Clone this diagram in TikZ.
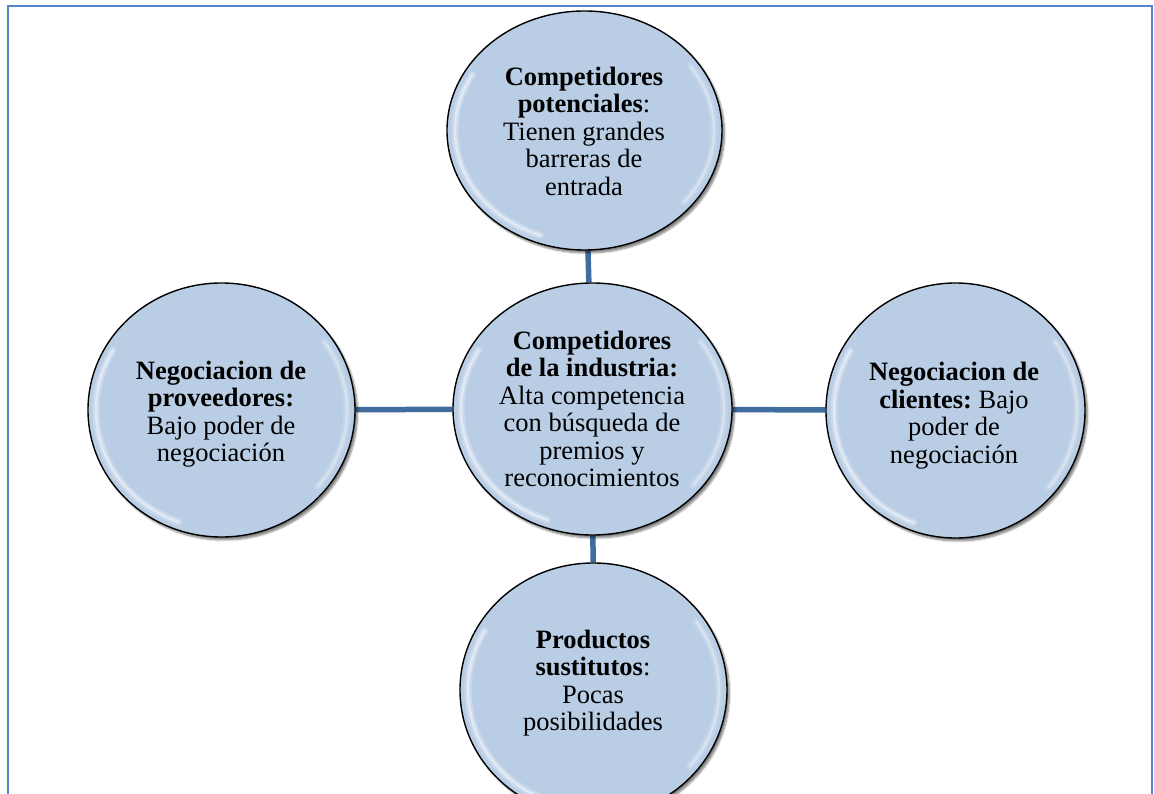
\documentclass[tikz,border=0pt]{standalone}
\usepackage{fontspec}
\setmainfont{Liberation Serif}
\usetikzlibrary{shapes.geometric,shadows.blur}
\pgfdeclarelayer{background}
\pgfsetlayers{background,main}

\definecolor{frameblue}{RGB}{84,134,206}
\definecolor{linkblue}{RGB}{64,108,158}
\definecolor{bubblefill}{RGB}{185,205,229}

\tikzset{
  bubble/.style={ellipse, draw=black, line width=1.4pt, fill=bubblefill,
    inner sep=0pt,
    blur shadow={shadow xshift=2.5pt, shadow yshift=-3pt,
      shadow blur steps=6, shadow opacity=50}},
  bubbletext/.style={align=center, inner sep=0pt,
    font=\fontsize{26.5}{27.5}\selectfont, text=black},
  link/.style={draw=linkblue, line width=5.5pt},
  frameline/.style={draw=frameblue, line width=2pt},
  glow/.style={draw=white, opacity=.25, line width=7pt, line cap=round},
  glowcore/.style={draw=white, opacity=.45, line width=2.5pt, line cap=round}
}

% soft bevel highlight inside an ellipse: name, x radius, y radius
\newcommand{\bevelglow}[3]{%
  \foreach \st/\en/\op in {150/250/1, -40/35/.7}{
    \draw[glow, opacity=.25*\op] ([shift={(\st:{#2-8} and {#3-8})}]#1.center)
      arc[start angle=\st, end angle=\en, x radius=#2-8, y radius=#3-8];
    \draw[glowcore, opacity=.45*\op] ([shift={(\st:{#2-8} and {#3-8})}]#1.center)
      arc[start angle=\st, end angle=\en, x radius=#2-8, y radius=#3-8];
  }
}

\begin{document}
\begin{tikzpicture}[x=1pt,y=1pt]
\useasboundingbox (0,0) rectangle (1154,793);
\clip (0,0) rectangle (1154,793);

% page frame
\draw[frameline] (8,-10) -- (8,787) -- (1152,787) -- (1152,-10);

% circles
\node[bubble, minimum width=275pt, minimum height=239pt] (top)    at (584.5,662.5) {};
\node[bubble, minimum width=279pt, minimum height=252pt] (center) at (592.5,384) {};
\node[bubble, minimum width=267pt, minimum height=254pt] (left)   at (221.5,383) {};
\node[bubble, minimum width=259pt, minimum height=255pt] (right)  at (955.5,382.5) {};
\node[bubble, minimum width=267pt, minimum height=254pt] (bottom) at (593.5,103) {};

\bevelglow{top}{137.5}{119.5}
\bevelglow{center}{139.5}{126}
\bevelglow{left}{133.5}{127}
\bevelglow{right}{129.5}{127.5}
\bevelglow{bottom}{133.5}{127}

% connectors behind the circles
\begin{pgfonlayer}{background}
  \draw[link] (top) -- (center);
  \draw[link] (left) -- (center);
  \draw[link] (center) -- (right);
  \draw[link] (center) -- (bottom);
\end{pgfonlayer}

% texts
\node[bubbletext] (top-text) at (584,662)
  {\textbf{Competidores}\\\textbf{potenciales}:\\Tienen grandes\\barreras de\\entrada};
\node[bubbletext] (center-text) at (592,384)
  {\textbf{Competidores}\\\textbf{de la industria:}\\Alta competencia\\con búsqueda de\\premios y\\reconocimientos};
\node[bubbletext] (left-text) at (221,379)
  {\textbf{Negociacion de}\\\textbf{proveedores:}\\Bajo poder de\\negociación};
\node[bubbletext] (right-text) at (954,377.5)
  {\textbf{Negociacion de}\\\textbf{clientes:}~Bajo\\poder de\\negociación};
\node[bubbletext] (bottom-text) at (593,110)
  {\textbf{Productos}\\\textbf{sustitutos}:\\Pocas\\posibilidades};
\end{tikzpicture}
\end{document}
